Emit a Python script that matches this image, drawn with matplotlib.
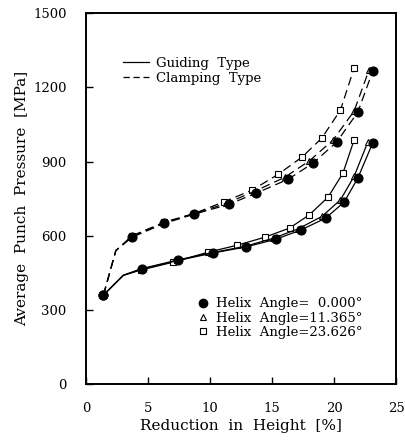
import matplotlib
matplotlib.use("Agg")
import matplotlib.pyplot as plt
from matplotlib.lines import Line2D

plt.rcParams["font.family"] = ["DejaVu Serif"]

# 測定データ（高さ減少率 [%] と平均パンチ圧力 [MPa]）
# ガイド方式
guide_x_000 = [1.4, 3.0, 4.5, 7.4, 10.2, 12.9, 15.3, 17.3, 19.3, 20.8, 21.9, 23.1]
guide_y_000 = [360, 440, 465, 500, 530, 555, 586, 623, 671, 736, 833, 975]
guide_x_113 = [1.4, 3.0, 4.4, 7.3, 10.1, 12.8, 15.1, 17.1, 19.0, 20.5, 21.6, 22.7]
guide_y_113 = [360, 440, 466, 501, 531, 557, 590, 628, 678, 745, 840, 978]
guide_x_236 = [1.4, 3.0, 4.4, 7.0, 9.8, 12.2, 14.4, 16.4, 18.0, 19.5, 20.7, 21.6]
guide_y_236 = [360, 440, 461, 493, 533, 562, 594, 631, 685, 756, 853, 987]

# クランプ方式
clamp_x_000 = [1.4, 2.4, 3.7, 6.3, 8.7, 11.5, 13.7, 16.3, 18.3, 20.2, 21.9, 23.1]
clamp_y_000 = [360, 540, 594, 650, 687, 727, 772, 829, 894, 979, 1100, 1265]
clamp_x_113 = [1.4, 2.4, 3.7, 6.3, 8.7, 11.3, 13.5, 16.0, 18.0, 19.9, 21.6, 22.8]
clamp_y_113 = [360, 540, 596, 652, 689, 731, 778, 836, 903, 987, 1104, 1270]
clamp_x_236 = [1.4, 2.4, 3.7, 6.3, 8.7, 11.1, 13.4, 15.5, 17.4, 19.0, 20.5, 21.6]
clamp_y_236 = [360, 540, 600, 655, 690, 737, 785, 849, 918, 995, 1108, 1278]

x_ticks = [0, 5, 10, 15, 20, 25]
y_ticks = [0, 300, 600, 900, 1200, 1500]

fig = plt.figure(figsize=(4.06, 4.41), dpi=100)
ax = fig.add_axes([0.212, 0.129, 0.764, 0.841])

# 折れ点（マーカーなし）を除いてマーカーを打つ
guide_marks = [0] + list(range(2, 12))
clamp_marks = [0] + list(range(2, 12))

series = [
    (guide_x_000, guide_y_000, "-", "o", "k", guide_marks),
    (guide_x_113, guide_y_113, "-", "^", "w", guide_marks),
    (guide_x_236, guide_y_236, "-", "s", "w", guide_marks),
    (clamp_x_000, clamp_y_000, (0, (7, 4)), "o", "k", clamp_marks),
    (clamp_x_113, clamp_y_113, (0, (7, 4)), "^", "w", clamp_marks),
    (clamp_x_236, clamp_y_236, (0, (7, 4)), "s", "w", clamp_marks),
]
# 白抜きマーカーを先に描き、黒丸を上に重ねる
for order in [2, 1, 0, 5, 4, 3]:
    x, y, ls, m, fc, marks = series[order]
    ms = 6.5 if m == "o" else 4.8
    ax.plot(x, y, linestyle=ls, color="k", lw=0.9, marker=m, markersize=ms,
            markerfacecolor=fc, markeredgecolor="k", markeredgewidth=0.8,
            markevery=marks, zorder=3 if m == "o" else 2)

ax.set_xlim(0, 25)
ax.set_ylim(0, 1500)
ax.set_xticks(x_ticks)
ax.set_yticks(y_ticks)
# 目盛りは内向き
ax.tick_params(direction="in", length=5, width=1.0, color="black",
               labelcolor="black", labelsize=9.5)
ax.tick_params(axis="y", pad=14)
ax.tick_params(axis="x", pad=13)
for s in ax.spines.values():
    s.set_linewidth(1.4)

ax.set_xlabel("Reduction  in  Height  [%]", fontsize=11, labelpad=3)
ax.set_ylabel("Average  Punch  Pressure  [MPa]", fontsize=11, labelpad=3)

# 方式の凡例
h1 = [Line2D([], [], color="k", lw=0.9, ls="-"),
      Line2D([], [], color="k", lw=0.9, ls=(0, (5, 3)))]
leg1 = ax.legend(h1, ["Guiding  Type", "Clamping  Type"], loc="upper left",
                 bbox_to_anchor=(0.08, 0.915), frameon=False, fontsize=9.5,
                 handlelength=2.0, handletextpad=0.5, labelspacing=0.15)
ax.add_artist(leg1)

# ヘリックス角の凡例
h2 = [Line2D([], [], ls="none", marker="o", markersize=6, mfc="k", mec="k"),
      Line2D([], [], ls="none", marker="^", markersize=5, mfc="w", mec="k", mew=0.8),
      Line2D([], [], ls="none", marker="s", markersize=5, mfc="w", mec="k", mew=0.8)]
ax.legend(h2, ["Helix  Angle=  0.000°", "Helix  Angle=11.365°", "Helix  Angle=23.626°"],
          loc="lower right", bbox_to_anchor=(0.93, 0.09), frameon=False,
          fontsize=9.5, handlelength=1.0, handletextpad=0.5, labelspacing=0.1)

fig.savefig("out.png", dpi=100)
